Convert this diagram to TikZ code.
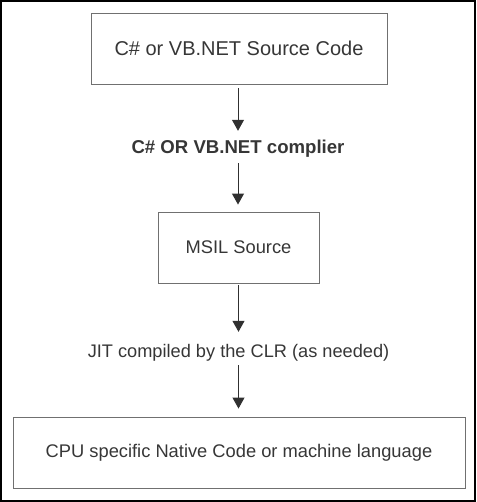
\documentclass[tikz,border=0pt]{standalone}
\usepackage{fontspec}
\setmainfont{Liberation Sans}
\usetikzlibrary{arrows.meta}
\definecolor{boxline}{HTML}{707070}
\definecolor{txt}{HTML}{363636}
\definecolor{arr}{HTML}{303030}
\begin{document}
\begin{tikzpicture}[x=1pt,y=-1pt,
  stagebox/.style={draw=boxline, line width=0.9pt, text=txt, inner sep=0pt, anchor=center},
  steplabel/.style={text=txt, inner sep=0pt, anchor=base, text height=14pt, text depth=4pt},
  flow/.style={draw=arr, line width=1pt, -{Triangle[width=12pt,length=11pt]}}]
\useasboundingbox (0,0) rectangle (476,502);
\draw[black, line width=1.6pt] (0.8,0.8) rectangle (475.2,501.2);
\node[stagebox, minimum width=296pt, minimum height=71pt, font=\fontsize{20}{24}\selectfont] (src) at (239,48.5) {C\# or VB.NET Source Code};
\node[steplabel, font=\fontsize{18.6}{22}\selectfont\bfseries] (comp) at (238,154) {C\# OR VB.NET complier};
\node[stagebox, minimum width=161pt, minimum height=71pt, font=\fontsize{18.3}{22}\selectfont] (msil) at (238.5,247.5) {MSIL Source};
\node[steplabel, font=\fontsize{18.2}{22}\selectfont] (jit) at (238.5,357) {JIT compiled by the CLR (as needed)};
\node[stagebox, minimum width=452pt, minimum height=71pt, font=\fontsize{18.3}{22}\selectfont] (cpu) at (239,452.5) {CPU specific Native Code or machine language};
\draw[flow, shorten <=4pt, shorten >=9pt] (src.south -| comp.north) -- (comp.north);
\draw[flow, shorten <=5pt, shorten >=7pt] (comp.south) -- (msil.north -| comp.south);
\draw[flow, shorten <=2pt, shorten >=11pt] (msil.south) -- (jit.north);
\draw[flow, shorten <=4pt, shorten >=8pt] (jit.south) -- (cpu.north -| jit.south);
\end{tikzpicture}
\end{document}
